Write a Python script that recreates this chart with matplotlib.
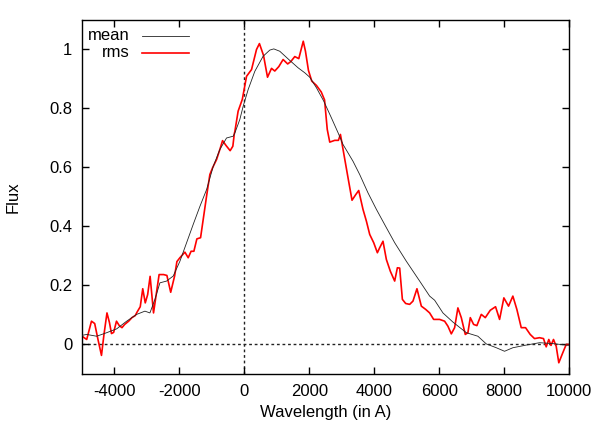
import numpy as np
import matplotlib
matplotlib.use("Agg")
import matplotlib.pyplot as plt

plt.rcParams['font.family'] = ['Liberation Sans', 'DejaVu Sans']

# rms spectrum (red)
rms_wave = [-5000, -4855, -4708, -4609, -4508, -4400, -4323, -4231, -4154, -4092,
            -4025, -3938, -3852, -3769, -3686, -3563, -3462, -3360, -3308, -3206,
            -3129, -3052, -2978, -2902, -2846, -2797, -2723, -2625, -2486, -2385,
            -2268, -2148, -2077, -1985, -1831, -1729, -1640, -1554, -1462, -1348,
            -1268, -1163, -1062, -978, -855, -754, -671, -560, -437, -354,
            -308, -292, -191, -62, 68, 222, 375, 465, 591, 714,
            837, 938, 1062, 1194, 1335, 1431, 1554, 1677, 1815, 1883,
            1975, 2077, 2222, 2369, 2471, 2554, 2631, 2785, 2898, 2960,
            3040, 3194, 3317, 3431, 3523, 3655, 3760, 3862, 3985, 4098,
            4169, 4271, 4375, 4498, 4631, 4714, 4785, 4868, 4969, 5092,
            5194, 5317, 5452, 5585, 5708, 5831, 6015, 6169, 6271, 6375,
            6477, 6578, 6683, 6806, 6886, 6960, 7062, 7163, 7298, 7422,
            7575, 7738, 7862, 7994, 8138, 8271, 8394, 8529, 8662, 8806,
            8938, 9092, 9215, 9298, 9378, 9446, 9523, 9606, 9686, 9809,
            9914, 10000]
rms_flux = [0.028, 0.017, 0.079, 0.071, 0.017, -0.037, 0.034, 0.107, 0.074, 0.037,
            0.041, 0.079, 0.064, 0.057, 0.068, 0.079, 0.091, 0.098, 0.109, 0.128,
            0.189, 0.141, 0.169, 0.231, 0.164, 0.107, 0.164, 0.237, 0.237, 0.234,
            0.177, 0.232, 0.281, 0.294, 0.313, 0.294, 0.316, 0.316, 0.358, 0.362,
            0.424, 0.503, 0.576, 0.599, 0.627, 0.661, 0.691, 0.674, 0.657, 0.672,
            0.715, 0.722, 0.791, 0.831, 0.909, 0.932, 1.000, 1.020, 0.980, 0.906,
            0.936, 0.927, 0.942, 0.966, 0.951, 0.959, 0.976, 0.969, 1.028, 0.994,
            0.929, 0.893, 0.878, 0.856, 0.829, 0.729, 0.686, 0.692, 0.692, 0.712,
            0.661, 0.565, 0.489, 0.508, 0.522, 0.458, 0.418, 0.373, 0.345, 0.311,
            0.328, 0.350, 0.288, 0.248, 0.215, 0.260, 0.259, 0.153, 0.139, 0.136,
            0.147, 0.189, 0.130, 0.119, 0.107, 0.085, 0.085, 0.079, 0.062, 0.036,
            0.057, 0.124, 0.091, 0.034, 0.040, 0.091, 0.068, 0.064, 0.102, 0.091,
            0.116, 0.128, 0.085, 0.158, 0.130, 0.164, 0.119, 0.057, 0.057, 0.034,
            0.020, 0.023, 0.020, -0.008, 0.017, -0.003, 0.017, -0.006, -0.062, -0.028,
            0.000, 0.000]

# mean spectrum (black)
mean_wave = [-5000, -4855, -4548, -4240, -3932, -3625, -3317, -3062, -2908, -2754,
             -2600, -2394, -2191, -1985, -1778, -1575, -1369, -1163, -960, -754,
             -548, -345, -292, -138, -37, 117, 323, 578, 785, 908,
             1092, 1369, 1655, 1862, 2015, 2222, 2446, 2683, 2886, 3040,
             3348, 3554, 3809, 4068, 4375, 4631, 4991, 5400, 5708, 5862,
             6117, 6425, 6837, 7194, 7452, 7760, 8015, 8271, 8683, 9092,
             9502, 9914, 10000]
mean_flux = [0.031, 0.034, 0.028, 0.040, 0.053, 0.079, 0.102, 0.113, 0.107, 0.153,
             0.209, 0.215, 0.232, 0.282, 0.345, 0.407, 0.468, 0.525, 0.603, 0.661,
             0.700, 0.706, 0.717, 0.763, 0.807, 0.864, 0.926, 0.977, 0.998, 1.002,
             0.994, 0.966, 0.938, 0.921, 0.906, 0.870, 0.825, 0.768, 0.718, 0.678,
             0.621, 0.576, 0.514, 0.458, 0.396, 0.345, 0.282, 0.215, 0.164, 0.150,
             0.107, 0.076, 0.040, 0.028, 0.002, -0.011, -0.023, -0.011, -0.002, 0.006,
             0.003, -0.002, -0.002]

xticks = [-4000, -2000, 0, 2000, 4000, 6000, 8000, 10000]
yticks = [0, 0.2, 0.4, 0.6, 0.8, 1]
ytick_labels = ['0', '0.2', '0.4', '0.6', '0.8', '1']

fig = plt.figure(figsize=(5.99, 4.28), dpi=100)
ax = fig.add_axes([0.1369, 0.1262, 0.8130, 0.8271])

# zero lines
ax.axhline(0, color='#222222', lw=1.0, ls=(0, (2, 2)), zorder=1)
ax.axvline(0, color='#222222', lw=1.0, ls=(0, (2, 2)), zorder=1)

ax.plot(mean_wave, mean_flux, color='#222222', lw=0.6, zorder=3)
ax.plot(rms_wave, rms_flux, color='#ff0000', lw=1.2, zorder=2)

ax.set_xlim(-5000, 10000)
ax.set_ylim(-0.1, 1.1)
ax.set_xticks(xticks)
ax.set_xticklabels([str(t) for t in xticks])
ax.set_yticks(yticks)
ax.set_yticklabels(ytick_labels)
ax.tick_params(direction='in', length=5, width=1, top=True, right=True,
               labelsize=12, pad=7)
for s in ax.spines.values():
    s.set_linewidth(1.0)

ax.set_xlabel('Wavelength (in A)', fontsize=12)
ax.set_ylabel('Flux', fontsize=12)
ax.xaxis.set_label_coords(0.5, -0.088)
ax.yaxis.set_label_coords(-0.126, 0.5)

# legend, gnuplot style: text right aligned, sample line to the right
ax.text(0.0986, 0.955, 'mean', transform=ax.transAxes, ha='right', va='center', fontsize=12)
ax.plot([0.1226, 0.2203], [0.955, 0.955], transform=ax.transAxes, color='#222222', lw=0.6)
ax.text(0.0986, 0.908, 'rms', transform=ax.transAxes, ha='right', va='center', fontsize=12)
ax.plot([0.1226, 0.2203], [0.908, 0.908], transform=ax.transAxes, color='#ff0000', lw=1.2)

fig.savefig('out.png', dpi=100)
